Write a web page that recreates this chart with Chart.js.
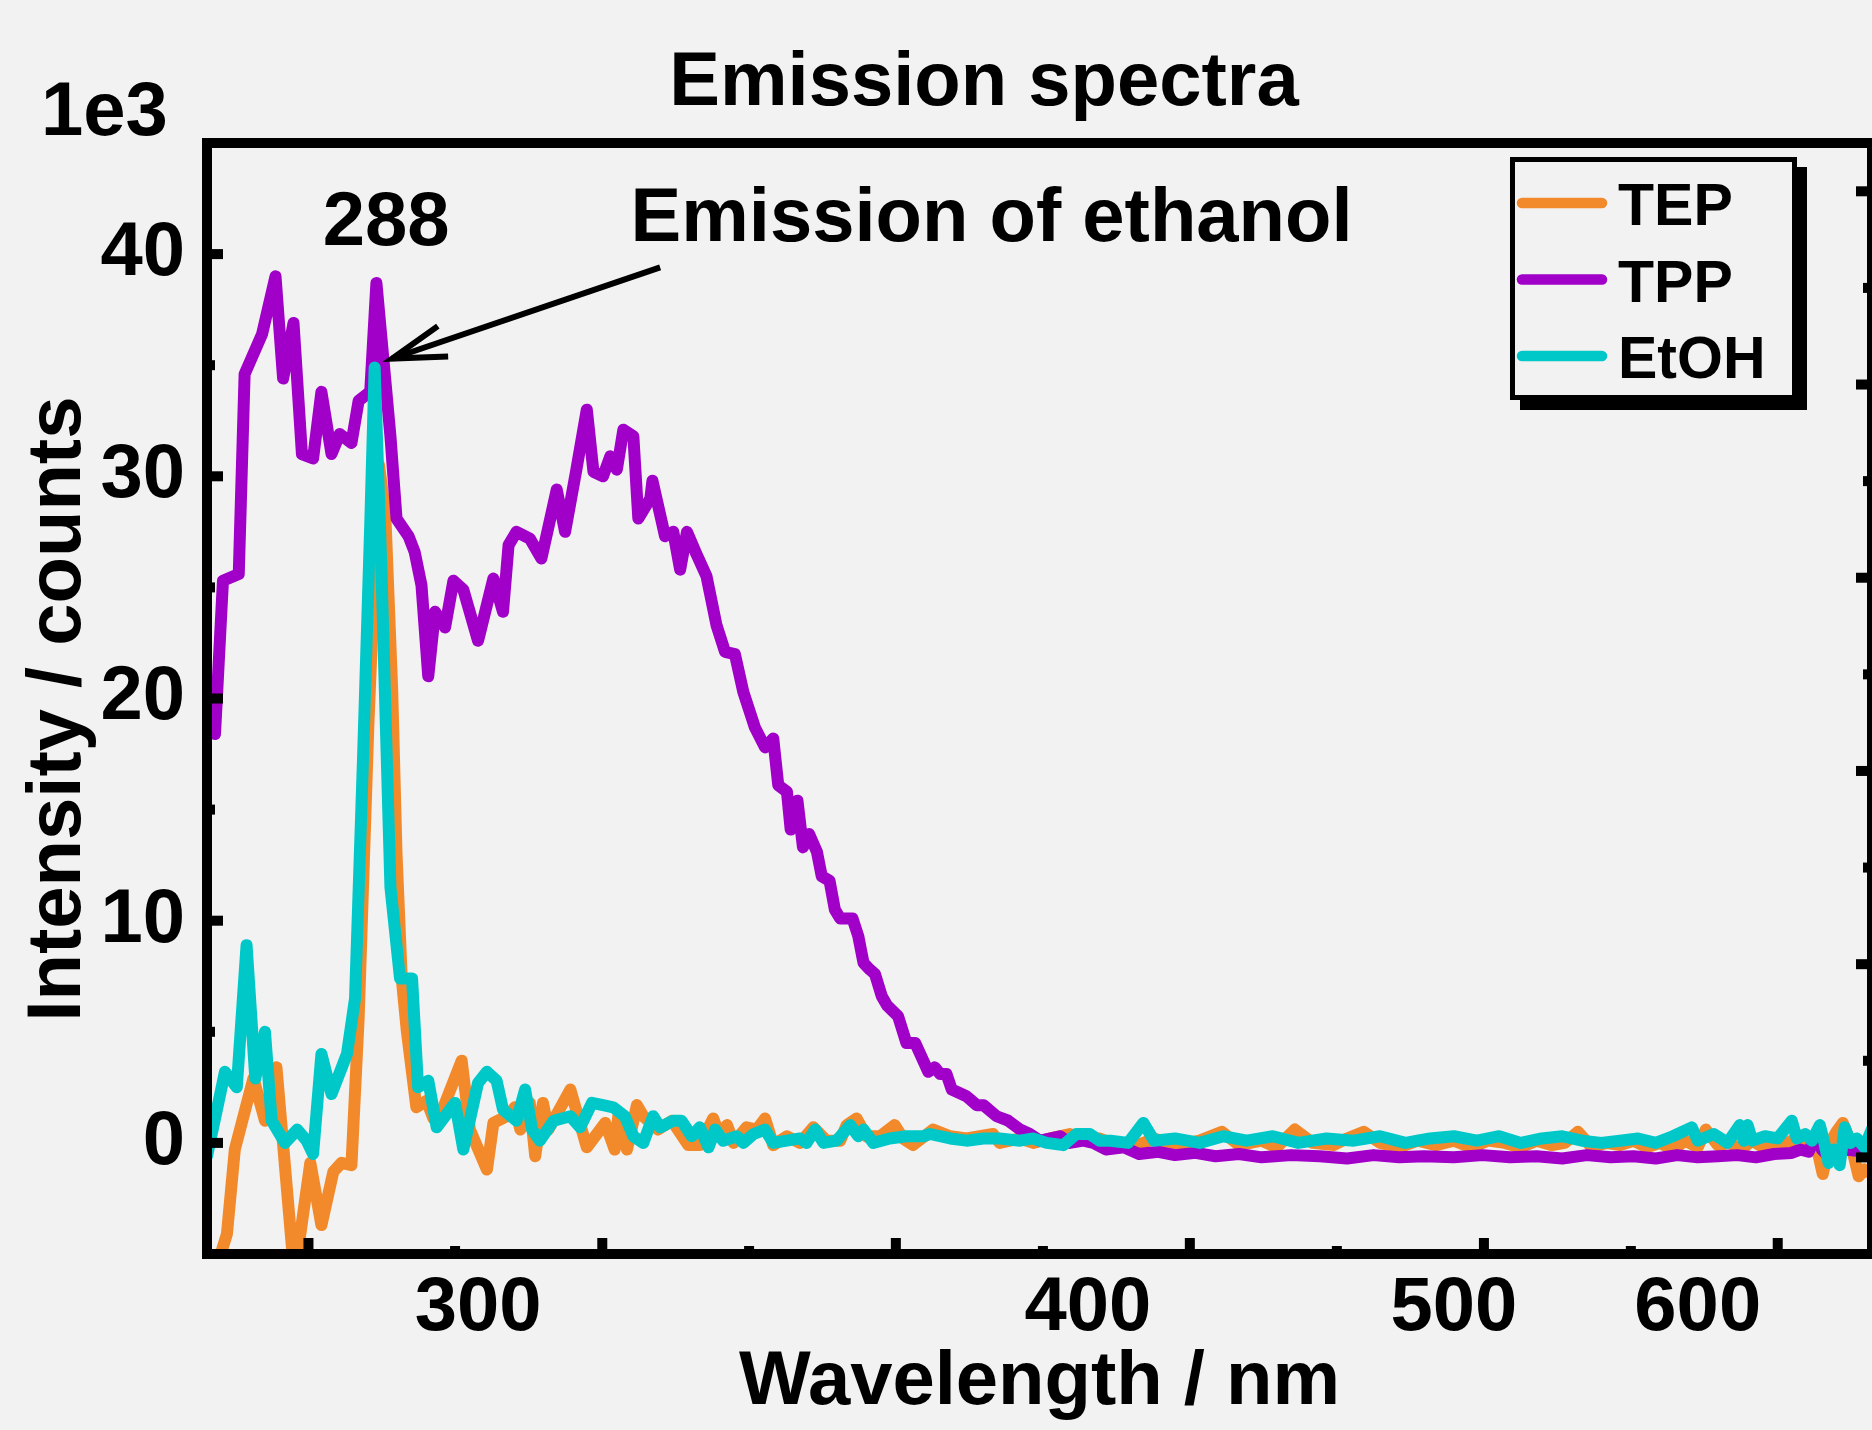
<!DOCTYPE html>
<html>
<head>
<meta charset="utf-8">
<script src="https://cdn.jsdelivr.net/npm/chart.js@4.4.1/dist/chart.umd.min.js"></script>
<style>
html,body{margin:0;padding:0;background:#f2f2f2;overflow:hidden}
canvas{display:block}
</style>
</head>
<body>
<canvas id="c" width="1872" height="1430"></canvas>
<script>
// ---------------- data ----------------
const seriesLabels = ['TEP', 'TPP', 'EtOH'];

const tepNm = [270.0,271.1,272.0,272.8,274.7,275.9,277.1,279.0,280.7,281.9,283.2,284.1,285.2,286.0,287.1,288.3,289.0,289.8,290.3,290.9,291.5,292.6,293.8,294.6,295.8,298.0,299.0,301.1,301.9,303.6,304.6,305.3,306.5,307.2,308.2,308.9,311.8,314.0,316.5,317.8,318.3,319.5,320.9,321.8,323.9,325.9,328.3,330.0,332.0,333.0,334.1,335.1,337.1,338.7,340.0,341.3,343.5,345.6,347.8,350.0,352.3,353.4,355.1,356.8,359.2,361.8,363.3,365.1,368.8,372.0,375.1,380.3,381.6,385.7,388.4,391.9,396.1,399.7,402.6,405,410,415,420,426,431.6,436,442,446,451,456,462,466,471,476,482,488,494,500,506,512,518,524,530,536,541,546.3,552,558,564,570,576,582,588,594,600,604,610,616,622,628,634,640,646,652,658,664,668.5,673,677,681,686,691.2,695,700];
const tepVal = [-8.0,-5.4,-4.1,-0.3,2.9,1.0,3.4,-6.0,-0.9,-3.7,-1.3,-0.9,-1.0,5.6,18.9,30.5,28.4,20.4,13.0,7.4,5.0,1.6,1.9,1.1,1.6,3.7,0.6,-1.2,0.9,1.2,1.6,0.6,1.8,-0.6,1.8,0.6,2.4,-0.2,0.9,-0.3,1.2,-0.3,1.7,1.2,0.6,1.0,-0.1,-0.1,1.1,0.3,0.8,0.0,0.7,0.6,1.1,-0.1,0.3,0.0,0.7,0.1,0.1,0.8,1.1,0.3,0.3,0.8,0.2,-0.1,0.6,0.3,0.2,0.4,0.0,0.2,0.0,0.2,0.4,0.1,0.2,0.0,-0.2,0.2,-0.1,0.1,0.5,-0.1,0.1,-0.2,0.6,0.0,-0.1,0.2,0.5,0.0,-0.2,0.1,-0.1,0.1,-0.2,0.1,0.0,-0.2,0.1,-0.1,0.0,0.5,-0.2,0.0,-0.1,0.1,-0.2,0.0,-0.3,0.1,-0.2,0.6,-0.1,0.0,-0.3,0.1,-0.2,0.0,-0.1,0.2,-0.2,0.1,-1.4,0.0,0.5,0.9,0.0,-1.5,-1.2,-1.4];

const tppNm = [270.0,270.8,271.6,273.2,273.8,275.6,277.0,277.8,278.9,279.8,281.0,281.9,283.0,283.9,285.2,286.0,287.3,288.0,289.6,290.3,291.7,292.4,293.2,294.0,294.8,296.0,297.0,298.2,300.0,301.9,303.1,303.8,304.8,306.5,308.0,310.0,311.1,312.6,314.0,314.9,316.2,317.2,318.1,319.0,320.4,321.1,322.8,323.1,324.4,324.9,326.1,327.1,328.1,329.5,331.0,332.5,333.8,335.3,336.6,338.4,340.0,341.3,342.1,343.5,344.1,345.2,346.1,347.1,348.4,349.2,350.5,351.4,352.3,354.4,355.4,356.3,357.4,358.3,359.5,360.4,362.4,363.9,365.5,367.9,369.1,370.1,371.3,372.3,375.1,377.1,378.4,381.0,383.3,385.7,387.7,389.8,394.0,396.1,399.0,401.2,404,408,411.5,416,420,425,430,436,442,450,458,466,474,482,490,500,510,520,530,540,550,560,570,580,590,600,610,620,630,640,650,655,660,665,668,672,676,682,690,700];
const tppVal = [20.3,18.4,25.3,25.6,34.6,36.4,39.0,34.4,36.9,31.0,30.8,33.8,31.0,31.9,31.5,33.4,33.8,38.7,31.8,28.1,27.3,26.6,25.1,21.0,23.9,23.2,25.3,24.9,22.6,25.4,23.9,26.9,27.5,27.2,26.3,29.4,27.5,30.3,33.0,30.2,30.0,30.9,30.3,32.1,31.8,28.1,29.0,29.8,28.0,27.3,27.5,25.8,27.5,26.5,25.5,23.3,22.1,22.0,20.3,18.7,17.8,18.2,16.1,15.8,14.1,15.4,13.3,13.9,13.1,12.0,11.8,10.5,10.1,10.1,9.3,8.1,7.8,7.6,6.6,6.2,5.7,4.5,4.5,3.2,3.4,3.1,3.1,2.4,2.1,1.7,1.7,1.2,1.0,0.6,0.4,0.1,0.3,0.0,0.1,0.0,-0.3,-0.2,-0.5,-0.4,-0.55,-0.45,-0.6,-0.5,-0.65,-0.55,-0.6,-0.7,-0.55,-0.65,-0.6,-0.65,-0.55,-0.65,-0.6,-0.7,-0.55,-0.65,-0.6,-0.7,-0.55,-0.65,-0.6,-0.55,-0.65,-0.5,-0.45,-0.3,-0.4,0.4,-0.3,-0.6,-0.4,-0.3,-0.35,-0.3];

const etohNm = [270.0,271.8,273.0,274.0,274.9,275.9,276.6,278.0,279.3,280.3,281.0,281.9,283.0,284.7,285.6,286.5,287.3,287.8,288.6,289.6,290.7,292.1,292.8,294.0,295.0,297.2,298.2,300.0,301.1,302.3,303.1,304.8,305.9,306.8,307.8,309.6,311.8,313.1,314.7,316.2,317.6,319.2,320.4,321.8,323.2,324.2,326.1,327.3,328.8,330.0,331.3,332.3,333.5,335.6,336.6,338.2,340.0,341.3,343.5,345.6,346.7,348.1,349.5,351.7,354.0,355.4,356.3,358.0,360.9,363.9,367.0,368.2,372.0,375.1,378.4,381.6,385.7,388.4,391.2,394.7,397.5,400.4,402.6,405,409,412.5,415,420,426,432,438,445,452,460,468,476,484,492,500,508,516,524,532,540,548,556,564,572,580,588,597.1,600,608,615,621.4,623.5,625.6,628,635,642,650.1,653,658,662,666.7,669.5,672.1,675.5,679.0,682.2,686,690,695,699.8];
const etohVal = [-0.6,3.2,2.5,8.9,2.9,5.0,1.0,0.0,0.6,0.1,-0.5,4.0,2.2,4.0,6.5,17.4,27.8,34.9,25.4,11.5,7.4,7.4,2.5,2.8,0.7,1.8,-0.3,2.7,3.2,2.8,1.5,1.0,2.4,0.6,0.1,1.0,1.2,0.7,1.8,1.7,1.6,1.2,0.3,0.0,1.2,0.7,1.0,1.0,0.3,0.7,-0.2,0.6,0.1,0.3,0.0,0.4,0.6,0.0,0.1,0.2,0.0,0.6,0.0,0.1,0.8,0.3,0.6,0.0,0.2,0.3,0.3,0.4,0.2,0.1,0.2,0.2,0.1,0.2,0.0,-0.1,0.4,0.4,0.1,0.1,0.0,0.9,0.1,0.2,0.0,0.3,0.1,0.3,0.0,0.2,0.1,0.3,0.0,0.2,0.3,0.1,0.3,0.0,0.2,0.3,0.1,0.0,0.1,0.2,0.0,0.3,0.7,0.1,0.4,0.0,0.8,0.1,0.8,0.1,0.3,0.2,1.0,0.2,0.4,0.1,0.8,0.0,-0.9,-0.3,-1.0,0.7,0.0,0.2,-0.2,0.6];

// axis ticks
const xTickNm = [300, 400, 500, 600];
const xTickLabels = ['300', '400', '500', '600'];
const xMajorTickNm = [280.5, 316.1, 362.0, 423.6, 510.5, 642.1];
const xMinorTickNm = [297.2, 337.5, 390.4, 463.0, 568.8];
const yTickValues = [0, 10, 20, 30, 40];
const yMinorTickValues = [5, 15, 25, 35];
const y2MajorTicks = [0, 1, 2, 3, 4, 5];
const y2MinorTicks = [0.5, 1.5, 2.5, 3.5, 4.5];
const xRangeNm = [270, 700];
const yRange = [-5, 45];
const y2Range = [-0.5, 5.25];

// annotations (data coordinates: nm, intensity / 1e3)
const annotText = ['288', 'Emission of ethanol'];
const annotNm = [289.1, 320.0];
const annotY = [40.4, 40.6];
const annotAlign = ['center', 'left'];
const arrowFrom = [324.2, 39.4];
const arrowTo = [289.8, 35.3];

// ---------------- style ----------------
const COL = { bg: '#f2f2f2', tep: '#f28a2c', tpp: '#a000c8', etoh: '#00c8c8', ink: '#000000' };
const FAM = '"Liberation Sans", Arial, Helvetica, sans-serif';
const LW = 12;
const toU = nm => 1e4 / nm;   // energy-like axis (1/wavelength)

const overlay = {
  id: 'overlay',
  beforeDraw(chart) {
    const ctx = chart.ctx;
    ctx.save();
    ctx.fillStyle = COL.bg;
    ctx.fillRect(0, 0, chart.width, chart.height);
    ctx.restore();
  },
  afterDatasetsDraw(chart) {
    const { ctx, chartArea: a, scales } = chart;
    const x = scales.x, y = scales.y, y2 = scales.y2;
    ctx.save();
    ctx.fillStyle = COL.ink;
    const T = 10;
    xMajorTickNm.forEach(nm => { const p = x.getPixelForValue(toU(nm)); ctx.fillRect(p - T / 2, a.bottom - 16, T, 16); });
    xMinorTickNm.forEach(nm => { const p = x.getPixelForValue(toU(nm)); ctx.fillRect(p - T / 2, a.bottom - 8, T, 8); });
    yTickValues.forEach(v => { const p = y.getPixelForValue(v); ctx.fillRect(a.left, p - T / 2, 16, T); });
    yMinorTickValues.forEach(v => { const p = y.getPixelForValue(v); ctx.fillRect(a.left, p - T / 2, 8, T); });
    y2MajorTicks.forEach(v => { const p = y2.getPixelForValue(v); ctx.fillRect(a.right - 16, p - T / 2, 16, T); });
    y2MinorTicks.forEach(v => { const p = y2.getPixelForValue(v); ctx.fillRect(a.right - 9, p - T / 2, 9, T); });

    // frame
    ctx.strokeStyle = COL.ink;
    ctx.lineWidth = 10;
    ctx.strokeRect(a.left, a.top, a.right - a.left, a.bottom - a.top);

    // legend with shadow
    const L = a.right - 362, Tp = a.top + 14, W = 287, H = 243;
    ctx.fillStyle = COL.ink;
    ctx.fillRect(L + 16, Tp + 15, W - 6, H - 6);
    ctx.fillRect(L + 10, Tp + 10, W, H);
    ctx.fillStyle = COL.bg;
    ctx.fillRect(L, Tp, W, H);
    ctx.lineWidth = 5;
    ctx.strokeRect(L + 2.5, Tp + 2.5, W - 5, H - 5);
    ctx.font = 'bold 59px ' + FAM;
    ctx.textAlign = 'left';
    ctx.textBaseline = 'alphabetic';
    chart.data.datasets.forEach((ds, i) => {
      const ly = Tp + 46 + 76.5 * i;
      ctx.strokeStyle = ds.borderColor;
      ctx.lineWidth = 10.5;
      ctx.lineCap = 'round';
      ctx.beginPath();
      ctx.moveTo(L + 12, ly);
      ctx.lineTo(L + 92, ly);
      ctx.stroke();
      ctx.fillStyle = COL.ink;
      ctx.fillText(ds.label, L + 108, ly + 22);
    });

    // annotations
    ctx.font = 'bold 76px ' + FAM;
    ctx.fillStyle = COL.ink;
    annotText.forEach((t, i) => {
      ctx.textAlign = annotAlign[i];
      ctx.fillText(t, x.getPixelForValue(toU(annotNm[i])), y.getPixelForValue(annotY[i]));
    });
    const x1 = x.getPixelForValue(toU(arrowFrom[0])), y1 = y.getPixelForValue(arrowFrom[1]);
    const x2 = x.getPixelForValue(toU(arrowTo[0])), y2p = y.getPixelForValue(arrowTo[1]);
    const ang = Math.atan2(y2p - y1, x2 - x1);
    ctx.strokeStyle = COL.ink;
    ctx.lineWidth = 6;
    ctx.lineCap = 'butt';
    ctx.lineJoin = 'miter';
    ctx.beginPath();
    ctx.moveTo(x1, y1);
    ctx.lineTo(x2, y2p);
    ctx.stroke();
    const hl = 56, hw = 0.29;
    ctx.beginPath();
    ctx.moveTo(x2 - hl * Math.cos(ang - hw), y2p - hl * Math.sin(ang - hw));
    ctx.lineTo(x2, y2p);
    ctx.lineTo(x2 - hl * Math.cos(ang + hw), y2p - hl * Math.sin(ang + hw));
    ctx.stroke();

    // title and multiplier
    ctx.textAlign = 'center';
    ctx.fillText('Emission spectra', 984, 105);
    ctx.textAlign = 'left';
    ctx.fillText('1e3', 41, 135);
    ctx.restore();
  }
};

function series(nmArr, valArr) {
  return nmArr.map((nm, i) => ({ x: toU(nm), y: valArr[i] }));
}

const boldFont = { family: FAM, size: 76, weight: 'bold' };
const lineStyle = { borderWidth: LW, tension: 0, borderJoinStyle: 'round', borderCapStyle: 'round', fill: false, pointRadius: 0, pointHoverRadius: 0, clip: 0 };

new Chart(document.getElementById('c'), {
  type: 'line',
  data: {
    datasets: [
      Object.assign({ label: seriesLabels[0], data: series(tepNm, tepVal), borderColor: COL.tep, order: 2 }, lineStyle),
      Object.assign({ label: seriesLabels[1], data: series(tppNm, tppVal), borderColor: COL.tpp, order: 1 }, lineStyle),
      Object.assign({ label: seriesLabels[2], data: series(etohNm, etohVal), borderColor: COL.etoh, order: 0 }, lineStyle)
    ]
  },
  options: {
    responsive: false,
    animation: false,
    devicePixelRatio: 1,
    layout: { padding: { top: 143, left: 0, right: 0, bottom: 0 } },
    plugins: { legend: { display: false }, title: { display: false }, tooltip: { enabled: false } },
    scales: {
      x: {
        type: 'linear',
        min: toU(xRangeNm[1]),
        max: toU(xRangeNm[0]),
        reverse: true,
        afterBuildTicks: s => { s.ticks = xTickNm.map(nm => ({ value: toU(nm) })); },
        ticks: { callback: (v, i) => xTickLabels[i], font: boldFont, color: COL.ink, padding: 9, autoSkip: false, maxRotation: 0, minRotation: 0 },
        grid: { display: false, drawTicks: false },
        border: { display: false },
        title: { display: true, text: 'Wavelength / nm', font: boldFont, color: COL.ink, padding: { top: 0, bottom: 1 } },
        afterFit: s => { s.height = 176; }
      },
      y: {
        type: 'linear',
        min: yRange[0],
        max: yRange[1],
        afterBuildTicks: s => { s.ticks = yTickValues.map(v => ({ value: v })); },
        ticks: { callback: v => String(v), font: boldFont, color: COL.ink, padding: 22 },
        grid: { display: false, drawTicks: false },
        border: { display: false },
        title: { display: true, text: 'Intensity / counts ', font: boldFont, color: COL.ink, padding: { top: 13, bottom: 0 } },
        afterFit: s => { s.width = 207; }
      },
      y2: {
        type: 'linear',
        position: 'right',
        min: y2Range[0],
        max: y2Range[1],
        ticks: { display: false },
        grid: { display: false, drawTicks: false },
        border: { display: false },
        afterFit: s => { s.width = 0; }
      }
    }
  },
  plugins: [overlay]
});
</script>
</body>
</html>
